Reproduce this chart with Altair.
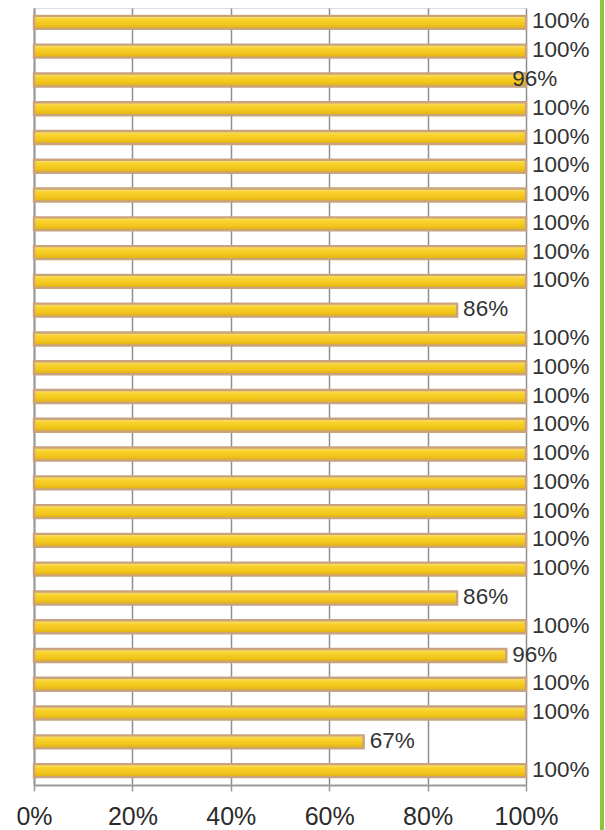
import altair as alt
import pandas as pd

# Row order, top to bottom
rows = list(range(1, 28))
bar_values = [100, 100, 100, 100, 100, 100, 100, 100, 100, 100, 86, 100, 100, 100,
              100, 100, 100, 100, 100, 100, 86, 100, 96, 100, 100, 67, 100]
label_values = [100, 100, 96, 100, 100, 100, 100, 100, 100, 100, 86, 100, 100, 100,
                100, 100, 100, 100, 100, 100, 86, 100, 96, 100, 100, 67, 100]
x_ticks = [0, 20, 40, 60, 80, 100]

df = pd.DataFrame({
    "row": rows,
    "value": bar_values,
    "label_value": label_values,
    "label": [f"{v}%" for v in label_values],
})

FONT = "Liberation Sans"
W, H = 492, 777
PAD_L, PAD_T = 34, 8

y_enc = alt.Y("row:O", sort=rows, axis=alt.Axis(labels=False, ticks=False, title=None,
                                                 domainColor="#9a9a9a", domainWidth=2),
              scale=alt.Scale(paddingInner=0.0, paddingOuter=0.0))

x_scale = alt.Scale(domain=[0, 100], nice=False)

gold = alt.Gradient(
    gradient="linear",
    stops=[
        alt.GradientStop(color="#fbe27a", offset=0),
        alt.GradientStop(color="#f8d22a", offset=0.3),
        alt.GradientStop(color="#f2c61c", offset=0.65),
        alt.GradientStop(color="#dcae16", offset=1),
    ],
    x1=0, x2=0, y1=0, y2=1,
)

bars = alt.Chart(df).mark_bar(size=13, fill=gold, stroke="#c9a27e", strokeWidth=2.4).encode(
    x=alt.X("value:Q", scale=x_scale,
            axis=alt.Axis(values=x_ticks, labelExpr="datum.value + '%'", title=None,
                          grid=True, gridColor="#8f8f8f", gridWidth=1.5,
                          domainColor="#9a9a9a", domainWidth=2,
                          tickColor="#9a9a9a", tickSize=6, tickWidth=1.5,
                          labelFont=FONT, labelFontSize=25, labelColor="#2b2b2b",
                          labelPadding=13, labelFlush=False)),
    y=y_enc,
)

labels = alt.Chart(df).mark_text(align="left", baseline="middle", dx=6, dy=-1,
                                 font=FONT, fontSize=22.5, color="#333333").encode(
    x=alt.X("label_value:Q", scale=x_scale),
    y=alt.Y("row:O", sort=rows),
    text="label:N",
)

green = alt.Chart(df).mark_rule(color="#8cc63f", strokeWidth=3).encode(
    x=alt.value(568), y=alt.value(-10), y2=alt.value(H + 60),
)

chart = alt.layer(bars, labels, green).properties(
    width=W, height=H,
    autosize=alt.AutoSizeParams(type="none"),
    padding={"left": PAD_L, "top": PAD_T, "right": 605 - PAD_L - W, "bottom": 830 - PAD_T - H},
).configure_view(stroke=None).configure(background="white")

chart.save("out.html", embed_options={"renderer": "svg", "actions": False})
